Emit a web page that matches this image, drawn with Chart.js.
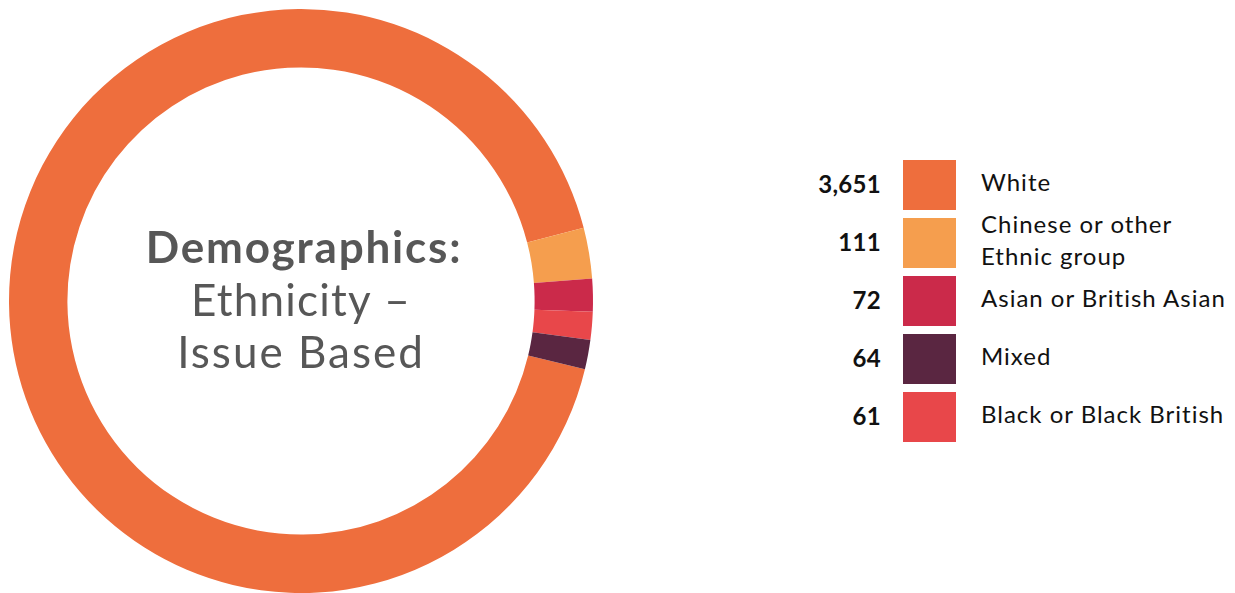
<!DOCTYPE html>
<html>
<head>
<meta charset="utf-8">
<title>Demographics: Ethnicity – Issue Based</title>
<script src="https://cdn.jsdelivr.net/npm/chart.js@4/dist/chart.umd.min.js"></script>
<style>
  html, body {
    margin: 0;
    padding: 0;
    background: #fff;
    overflow: hidden;
    font-family: Lato, "Open Sans", sans-serif;
  }
  .wrap {
    position: relative;
    width: 1235px;
    height: 593px;
  }
  .donut {
    position: absolute;
    left: 0;
    top: 0;
    width: 602px;
    height: 602px;
  }
  .legend {
    position: absolute;
    left: 0;
    top: 0;
  }
  .row {
    position: absolute;
    left: 0;
    height: 50px;
  }
  .row .val {
    position: absolute;
    width: 120px;
    left: 761px;
    top: -1px;
    height: 50px;
    line-height: 50px;
    text-align: right;
    font-weight: 700;
    font-size: 24px;
    letter-spacing: 0.3px;
    color: #111;
  }
  .row .sw {
    position: absolute;
    left: 903px;
    top: 0;
    width: 53px;
    height: 50px;
  }
  .row .lbl {
    position: absolute;
    left: 981px;
    top: -3px;
    width: 270px;
    height: 50px;
    display: flex;
    align-items: center;
    font-size: 24px;
    line-height: 32px;
    letter-spacing: 1px;
    color: #111;
  }
</style>
</head>
<body>
<div class="wrap">
  <div class="donut"><canvas id="ethnicityChart" width="602" height="602"></canvas></div>
  <div class="legend" id="legend"></div>
</div>
<script>
// Slices in the order they sit round the ring
const categories = ['White', 'Chinese or other Ethnic group', 'Asian or British Asian', 'Black or Black British', 'Mixed'];
const counts = [3651, 111, 72, 61, 64];
const colours = ['#EE6E3D', '#F59E4E', '#CB2A4A', '#E8474A', '#5A2641'];
// Legend lists them largest first
const legendOrder = [0, 1, 2, 4, 3];
const legendLabels = ['White', 'Chinese or other<br>Ethnic group', 'Asian or British Asian', 'Black or Black British', 'Mixed'];
const titleLines = ['Demographics:', 'Ethnicity –', 'Issue Based'];

// Title in the hole of the doughnut
const centreText = {
  id: 'centreText',
  afterDraw(chart) {
    const c = chart.ctx;
    const meta = chart.getDatasetMeta(0).data[0];
    const x = meta.x, y = meta.y;
    c.save();
    c.fillStyle = '#575757';
    c.textAlign = 'center';
    c.textBaseline = 'alphabetic';
    c.font = '700 44px Lato';
    c.letterSpacing = '1.8px';
    c.fillText(titleLines[0], x + 3, y - 38);
    c.font = '400 44px Lato';
    c.letterSpacing = '1.2px';
    c.fillText(titleLines[1], x, y + 15);
    c.letterSpacing = '2px';
    c.fillText(titleLines[2], x, y + 67);
    c.restore();
  }
};

new Chart(document.getElementById('ethnicityChart'), {
  type: 'doughnut',
  data: {
    labels: categories,
    datasets: [{
      data: counts,
      backgroundColor: colours,
      borderWidth: 0
    }]
  },
  options: {
    responsive: false,
    animation: false,
    cutout: '80%',
    rotation: 103.5,
    layout: { padding: 9 },
    plugins: {
      legend: { display: false },
      tooltip: { enabled: false }
    }
  },
  plugins: [centreText]
});

// Legend rows built from the same arrays
const legend = document.getElementById('legend');
legendOrder.forEach((idx, i) => {
  const row = document.createElement('div');
  row.className = 'row';
  row.style.top = (160 + i * 58) + 'px';
  row.innerHTML =
    '<div class="val">' + counts[idx].toLocaleString('en-GB') + '</div>' +
    '<div class="sw" style="background:' + colours[idx] + '"></div>' +
    '<div class="lbl"><span>' + legendLabels[idx] + '</span></div>';
  legend.appendChild(row);
});
</script>
</body>
</html>
